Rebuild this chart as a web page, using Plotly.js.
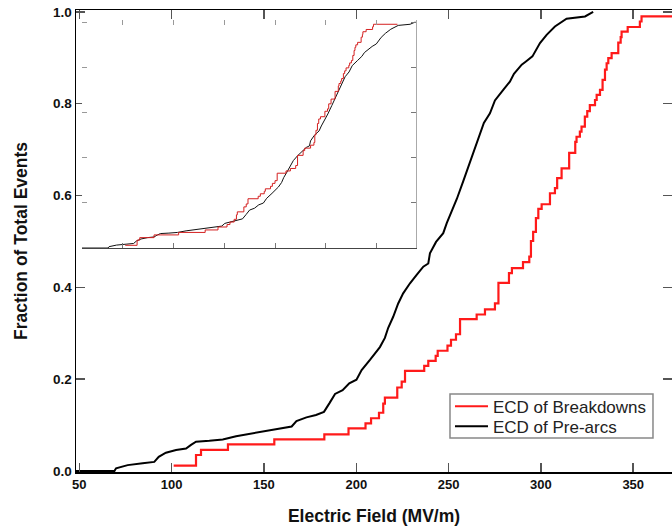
<!DOCTYPE html>
<html>
<head>
<meta charset="utf-8">
<script src="https://cdn.plot.ly/plotly-3.0.1.min.js"></script>
<style>html,body{margin:0;padding:0;background:#fff;}#chart{width:672px;height:529px;}</style>
</head>
<body>
<div id="chart"></div>
<script>
// Breakdowns ECD (red), step vertices: field (MV/m) and cumulative fraction
const breakdownField = [101.1, 113.2, 115.9, 130.5, 155.6, 182.7, 195.8, 205.0, 208.0, 212.3, 214.6, 215.5, 222.2, 224.6, 226.4, 236.8, 239.0, 243.0, 244.1, 249.4, 251.3, 254.0, 256.2, 265.2, 269.7, 275.1, 277.0, 282.7, 284.3, 290.3, 293.7, 294.6, 295.8, 297.3, 298.6, 300.4, 304.9, 307.6, 308.8, 311.2, 315.3, 318.6, 319.3, 321.1, 322.0, 323.8, 325.1, 326.5, 329.3, 330.2, 332.0, 333.4, 334.7, 335.6, 336.5, 338.3, 341.9, 343.2, 343.7, 347.0, 353.6, 354.5, 379.0];
const breakdownFrac = [0.012, 0.035, 0.046, 0.058, 0.069, 0.080, 0.093, 0.104, 0.115, 0.127, 0.147, 0.160, 0.182, 0.195, 0.218, 0.229, 0.240, 0.251, 0.262, 0.273, 0.286, 0.298, 0.331, 0.341, 0.352, 0.365, 0.410, 0.431, 0.442, 0.455, 0.467, 0.501, 0.521, 0.551, 0.571, 0.581, 0.605, 0.616, 0.638, 0.659, 0.693, 0.717, 0.728, 0.739, 0.750, 0.772, 0.784, 0.797, 0.808, 0.819, 0.830, 0.852, 0.874, 0.888, 0.899, 0.910, 0.933, 0.945, 0.957, 0.967, 0.979, 0.990, 0.990];

// Pre-arcs ECD (black)
const preArcField = [47.0, 69.0, 69.9, 76.2, 84.3, 90.6, 93.0, 96.9, 102.4, 107.8, 110.5, 113.2, 120.4, 127.7, 134.9, 145.7, 156.5, 165.0, 167.6, 173.0, 178.2, 182.5, 185.5, 188.5, 192.6, 196.2, 200.1, 202.9, 207.4, 212.8, 215.5, 217.3, 220.0, 222.7, 225.4, 229.1, 232.7, 236.3, 239.0, 239.9, 243.2, 247.1, 249.0, 251.8, 254.5, 257.9, 261.6, 265.6, 269.1, 272.4, 275.1, 279.6, 283.2, 285.4, 289.6, 291.9, 295.4, 299.5, 303.1, 307.6, 313.9, 323.9, 328.3];
const preArcFrac = [0, 0, 0.006, 0.013, 0.017, 0.020, 0.031, 0.040, 0.046, 0.049, 0.057, 0.064, 0.066, 0.069, 0.076, 0.083, 0.091, 0.097, 0.109, 0.117, 0.122, 0.129, 0.148, 0.168, 0.176, 0.191, 0.199, 0.220, 0.242, 0.270, 0.290, 0.312, 0.336, 0.365, 0.387, 0.409, 0.427, 0.445, 0.452, 0.474, 0.499, 0.518, 0.540, 0.566, 0.593, 0.631, 0.673, 0.717, 0.758, 0.779, 0.807, 0.830, 0.848, 0.865, 0.885, 0.892, 0.903, 0.932, 0.950, 0.968, 0.985, 0.990, 1.000];

// Inset: each distribution normalised by its own median field (MV/m)
const preArcMedian = 243;
const breakdownMedian = 294;

const seriesNames = ['ECD of Breakdowns', 'ECD of Pre-arcs'];
const xTickVals = [50, 100, 150, 200, 250, 300, 350];
const yTickVals = [0, 0.2, 0.4, 0.6, 0.8, 1.0];
const yTickText = ['0.0', '0.2', '0.4', '0.6', '0.8', '1.0'];
const insetXTicks = [0.333, 0.510, 0.687, 0.864, 1.040, 1.217];

const insetPreX = preArcField.map(v => v / preArcMedian);
const insetBrkX = breakdownField.map(v => v / breakdownMedian);

const FONT = 'Liberation Sans, Arial, sans-serif';

const traces = [
  {x: breakdownField, y: breakdownFrac, type: 'scatter', mode: 'lines', name: seriesNames[0], legend: 'legend',
   line: {color: '#ff1a1a', width: 2.2, shape: 'hv'}, xaxis: 'x', yaxis: 'y', hoverinfo: 'skip'},
  {x: preArcField, y: preArcFrac, type: 'scatter', mode: 'lines', name: seriesNames[1], legend: 'legend2',
   line: {color: '#000000', width: 2, shape: 'linear'}, xaxis: 'x', yaxis: 'y', hoverinfo: 'skip'},
  {x: insetPreX, y: preArcFrac, type: 'scatter', mode: 'lines', showlegend: false,
   line: {color: '#111111', width: 1, shape: 'linear'}, xaxis: 'x2', yaxis: 'y2', hoverinfo: 'skip'},
  {x: insetBrkX, y: breakdownFrac, type: 'scatter', mode: 'lines', showlegend: false,
   line: {color: '#d42020', width: 1, shape: 'hv'}, xaxis: 'x3', yaxis: 'y3', hoverinfo: 'skip'}
];

const insetXRange = [0.1938, 1.3535];
const insetYRange = [0, 1.009];
const insetXDom = [0.0101, 0.5705];
const insetYDom = [0.4848, 0.9784];

const legendFont = {family: FONT, size: 17, color: '#222'};

const layout = {
  width: 672, height: 529,
  margin: {l: 76, r: 0, t: 10, b: 57},
  paper_bgcolor: '#ffffff', plot_bgcolor: '#ffffff',
  showlegend: true,
  font: {family: FONT, color: '#000'},
  xaxis: {
    range: [48.2, 371.0], tickvals: xTickVals, ticks: 'inside', ticklen: 9, tickwidth: 1.5, tickcolor: '#555',
    showline: true, linecolor: '#000', linewidth: 1.5, mirror: 'ticks', showgrid: false, zeroline: false,
    tickfont: {family: FONT, size: 13, weight: 'bold', color: '#111'},
    title: {text: 'Electric Field (MV/m)', font: {family: FONT, size: 17.5, weight: 'bold', color: '#111'}, standoff: 18}
  },
  yaxis: {
    range: [-0.002, 1.004], tickvals: yTickVals, ticktext: yTickText, ticks: 'inside', ticklen: 9, tickwidth: 1.5, tickcolor: '#555',
    showline: true, linecolor: '#000', linewidth: 1.5, mirror: 'ticks', showgrid: false, zeroline: false,
    tickfont: {family: FONT, size: 13.5, weight: 'bold', color: '#111'},
    title: {text: 'Fraction of Total Events', font: {family: FONT, size: 17.5, weight: 'bold', color: '#111'}, standoff: 21}
  },
  xaxis2: {
    domain: insetXDom, anchor: 'y2', range: insetXRange, tickvals: insetXTicks, showticklabels: false,
    ticks: 'inside', ticklen: 5, tickwidth: 1, tickcolor: '#777',
    showline: true, linecolor: '#444', linewidth: 1, mirror: false, showgrid: false, zeroline: false
  },
  yaxis2: {
    domain: insetYDom, anchor: 'x2', side: 'right', range: insetYRange, tickvals: yTickVals, showticklabels: false,
    ticks: 'inside', ticklen: 5, tickwidth: 1, tickcolor: '#777',
    showline: true, linecolor: '#aaa', linewidth: 1, mirror: false, showgrid: false, zeroline: false
  },
  xaxis3: {
    overlaying: 'x2', anchor: 'y2', side: 'top', range: insetXRange, tickvals: insetXTicks, showticklabels: false,
    ticks: 'inside', ticklen: 5, tickwidth: 1, tickcolor: '#999',
    showline: false, showgrid: false, zeroline: false
  },
  yaxis3: {
    overlaying: 'y2', anchor: 'x2', side: 'left', range: insetYRange, tickvals: yTickVals, showticklabels: false,
    ticks: 'inside', ticklen: 5, tickwidth: 1, tickcolor: '#999',
    showline: false, showgrid: false, zeroline: false
  },
  legend: {
    x: 0.6275, y: 0.1413, xanchor: 'left', yanchor: 'middle',
    bgcolor: 'rgba(0,0,0,0)', borderwidth: 0, font: legendFont, itemwidth: 33
  },
  legend2: {
    x: 0.6275, y: 0.0981, xanchor: 'left', yanchor: 'middle',
    bgcolor: 'rgba(0,0,0,0)', borderwidth: 0, font: legendFont, itemwidth: 33
  },
  shapes: [{
    type: 'rect', xref: 'paper', yref: 'paper', x0: 0.6275, x1: 0.9681, y0: 0.0736, y1: 0.1688,
    line: {color: '#888', width: 1.5}, fillcolor: 'rgba(255,255,255,0)', layer: 'above'
  }]
};

Plotly.newPlot('chart', traces, layout, {displayModeBar: false, staticPlot: true});
</script>
</body>
</html>
